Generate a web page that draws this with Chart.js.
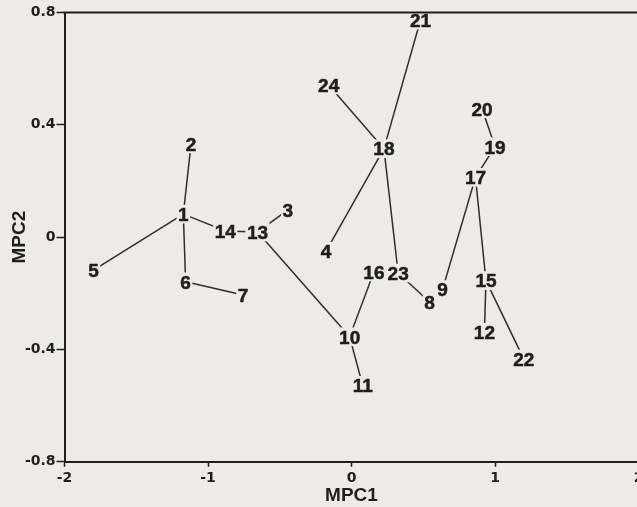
<!DOCTYPE html>
<html>
<head>
<meta charset="utf-8">
<title>MPC1 vs MPC2</title>
<script src="https://cdn.jsdelivr.net/npm/chart.js@4/dist/chart.umd.min.js"></script>
<style>
  html, body { margin: 0; padding: 0; background: #ecebe7; overflow: hidden; }
  #wrap { position: absolute; left: 0; top: 0; width: 660px; height: 507px; }
</style>
</head>
<body>
<div id="wrap"><canvas id="plot" width="660" height="507"></canvas></div>
<script>
// Sample numbers and their scores on the first two components
const sampleIds = ['1','2','3','4','5','6','7','8','9','10','11','12',
                   '13','14','15','16','17','18','19','20','21','22','23','24'];
const mpc1 = [-1.172, -1.118, -0.444, -0.177, -1.798, -1.156, -0.755, 0.544,
               0.634, -0.013, 0.078, 0.926, -0.655, -0.880, 0.937, 0.156,
               0.864, 0.226, 1.000, 0.910, 0.481, 1.200, 0.325, -0.159];
const mpc2 = [0.082, 0.332, 0.097, -0.050, -0.118, -0.159, -0.206, -0.231,
              -0.187, -0.355, -0.528, -0.339, 0.018, 0.022, -0.155, -0.124,
               0.213, 0.315, 0.322, 0.457, 0.773, -0.434, -0.128, 0.542];

// Links of the minimum spanning tree (pairs of sample numbers)
const treeLinks = [[1,2],[1,5],[1,6],[1,14],[14,13],[13,3],[13,10],[6,7],
                   [10,11],[10,16],[16,23],[23,8],[8,9],[23,18],[18,4],
                   [18,24],[18,21],[17,9],[17,19],[19,20],[17,15],[15,12],[15,22]];

// Axis ticks
const xTickValues = [-2, -1, 0, 1, 2];
const xTickLabels = ['-2', '-1', '0', '1', '2'];
const yTickValues = [-0.8, -0.4, 0, 0.4, 0.8];
const yTickLabels = ['-0.8', '-0.4', '0', '0.4', '0.8'];

const PAPER = '#ecebe7';
const INK = '#1e1e1e';
const LINE = '#2e2e2e';
const LABEL_FONT_SIZE = 19;
const LABEL_FONT = 'bold ' + LABEL_FONT_SIZE + 'px "Liberation Sans", Arial, sans-serif';
const TICK_FONT = { family: '"DejaVu Sans", sans-serif', size: 14, weight: 'bold' };
const TITLE_FONT = { family: '"Liberation Sans", Arial, sans-serif', size: 19, weight: 'bold', lineHeight: 1 };

const nodePoint = i => ({ x: mpc1[i - 1], y: mpc2[i - 1] });

const linkDatasets = treeLinks.map(([a, b]) => ({
  label: a + '-' + b,
  data: [nodePoint(a), nodePoint(b)],
  showLine: true,
  borderColor: LINE,
  borderWidth: 1.5,
  pointRadius: 0,
  pointHoverRadius: 0,
  fill: false
}));

const nodeDataset = {
  label: 'samples',
  data: sampleIds.map((id, i) => ({ x: mpc1[i], y: mpc2[i] })),
  pointRadius: 0,
  pointHoverRadius: 0,
  showLine: false
};

// Paper background, numbered sample labels and the top/right frame
const plotDecor = {
  id: 'plotDecor',
  beforeDraw(chart) {
    const ctx = chart.ctx;
    ctx.save();
    ctx.fillStyle = PAPER;
    ctx.fillRect(0, 0, chart.width, chart.height);
    ctx.restore();
  },
  afterDatasetsDraw(chart) {
    const ctx = chart.ctx;
    const { left, right, top, bottom } = chart.chartArea;
    const xs = chart.scales.x, ys = chart.scales.y;
    ctx.save();
    ctx.font = LABEL_FONT;
    const capH = LABEL_FONT_SIZE * 0.716;
    const boxes = sampleIds.map((id, i) => {
      const px = xs.getPixelForValue(mpc1[i]);
      const py = ys.getPixelForValue(mpc2[i]);
      const w = ctx.measureText(id).width;
      return { id, px, py, w };
    });
    // clear the ends of the links around each number
    ctx.fillStyle = PAPER;
    boxes.forEach(b => {
      ctx.fillRect(b.px - b.w / 2 - 1.5, b.py - capH / 2 - 2.5, b.w + 3, capH + 5);
    });
    ctx.fillStyle = INK;
    ctx.strokeStyle = INK;
    ctx.lineWidth = 0.5;
    ctx.textAlign = 'center';
    ctx.textBaseline = 'alphabetic';
    boxes.forEach(b => {
      ctx.fillText(b.id, b.px, b.py + capH / 2);
      ctx.strokeText(b.id, b.px, b.py + capH / 2);
    });

    ctx.strokeStyle = INK;
    ctx.lineWidth = 2;
    ctx.beginPath();
    ctx.moveTo(left - 1, top);
    ctx.lineTo(right, top);
    ctx.lineTo(right, bottom);
    ctx.stroke();
    ctx.restore();
  }
};

new Chart(document.getElementById('plot'), {
  type: 'scatter',
  data: { datasets: [...linkDatasets, nodeDataset] },
  options: {
    responsive: false,
    animation: false,
    events: [],
    layout: { padding: { left: 0, right: 21.5, top: 12.5, bottom: 0 } },
    plugins: { legend: { display: false }, tooltip: { enabled: false } },
    scales: {
      x: {
        type: 'linear',
        min: -2, max: 2,
        afterFit: s => { s.height = 45.3; },
        afterBuildTicks: s => { s.ticks = xTickValues.map(v => ({ value: v })); },
        ticks: {
          color: INK,
          font: TICK_FONT,
          padding: 3,
          maxRotation: 0,
          autoSkip: false,
          callback: (v) => xTickLabels[xTickValues.indexOf(v)]
        },
        grid: { drawOnChartArea: false, drawTicks: true, tickLength: 5, tickColor: INK, tickWidth: 1.5 },
        border: { display: true, color: INK, width: 2 },
        title: { display: true, text: 'MPC1', color: INK, font: TITLE_FONT, padding: { top: 0, bottom: 2 } }
      },
      y: {
        type: 'linear',
        min: -0.8, max: 0.8,
        afterFit: s => { s.width = 64.5; },
        afterBuildTicks: s => { s.ticks = yTickValues.map(v => ({ value: v })); },
        ticks: {
          color: INK,
          font: TICK_FONT,
          padding: 1,
          autoSkip: false,
          callback: (v) => yTickLabels[yTickValues.indexOf(v)]
        },
        grid: { drawOnChartArea: false, drawTicks: true, tickLength: 8, tickColor: INK, tickWidth: 1.5 },
        border: { display: true, color: INK, width: 2 },
        title: { display: true, text: 'MPC2', color: INK, font: TITLE_FONT, padding: { top: 10.5, bottom: 0 } }
      }
    }
  },
  plugins: [plotDecor]
});
</script>
</body>
</html>
